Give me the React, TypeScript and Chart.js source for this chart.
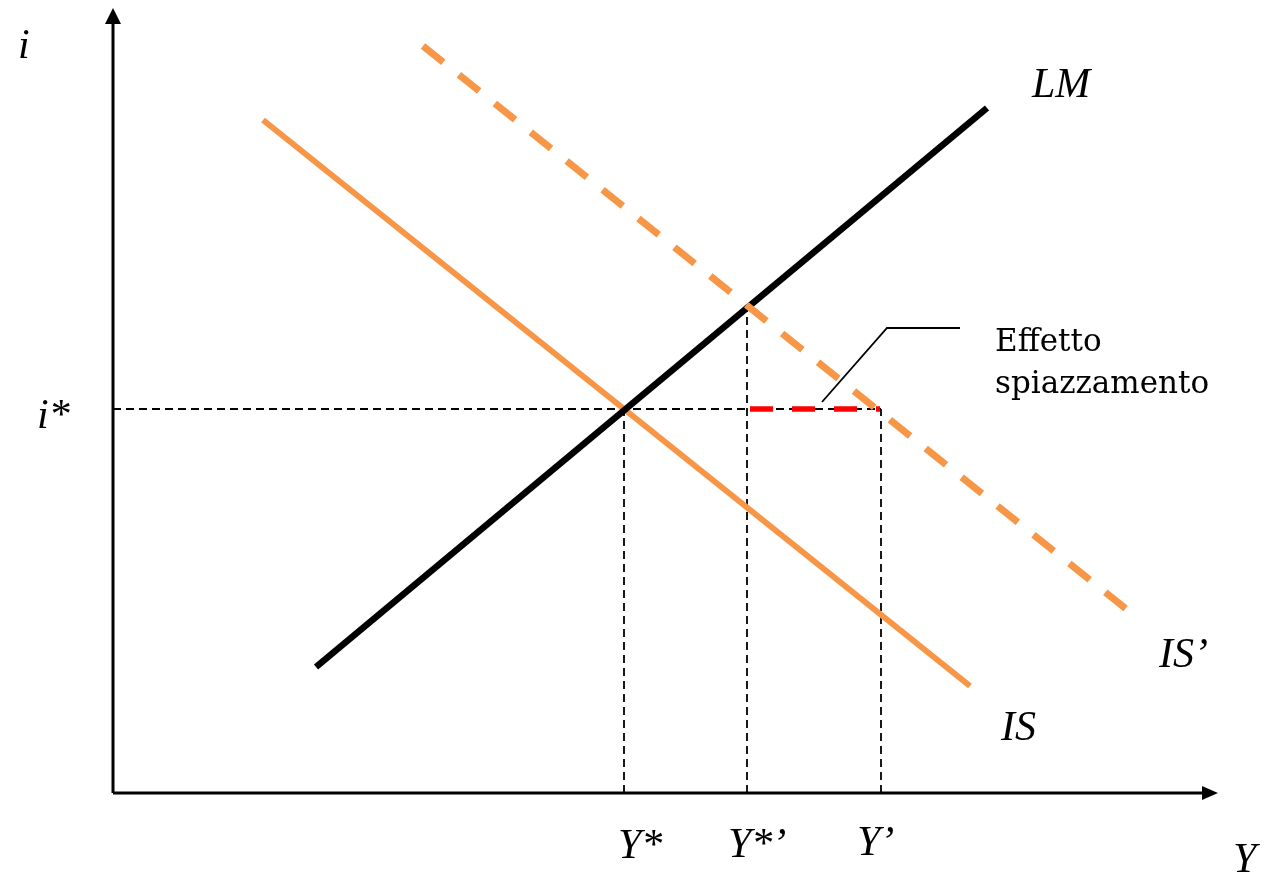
import { useEffect, useRef } from "react";
import { Chart, registerables } from "chart.js";

Chart.register(...registerables);

// Income Y on the horizontal axis, interest rate i on the vertical axis (arbitrary units)
const Y_MAX = 110.5;
const I_MAX = 78.5;

// Equilibrium values
const yStar = 51.1;
const iStar = 38.4;
const yStarPrime = 63.4;
const iStarPrime = 48.5;
const yPrime = 76.8;

// Curves as end points (Y, i)
const isCurve = [
  { x: 15.0, y: 67.3 },
  { x: 85.7, y: 10.7 },
];
const isShiftedCurve = [
  { x: 31.0, y: 74.7 },
  { x: 101.7, y: 18.1 },
];
const lmCurve = [
  { x: 20.3, y: 12.6 },
  { x: 87.4, y: 68.5 },
];

// Crowding-out gap at the old interest rate
const crowdingOut = [
  { x: yStarPrime + 0.3, y: iStar },
  { x: yPrime - 0.1, y: iStar },
];

// Pointer from the note to the gap
const noteLeader = [
  { x: 70.9, y: 39.1 },
  { x: 77.4, y: 46.5 },
  { x: 84.7, y: 46.5 },
];

// Axis tick labels
const xTickLabels = ["Y*", "Y*’", "Y’"];
const yTickLabels = ["i*"];
const curveNames = ["LM", "IS", "IS’"];
const noteLines = ["Effetto", "spiazzamento"];

const ORANGE = "#F79646";
const ITALIC = "italic 42px 'Liberation Serif', serif";
const ROMAN = "31px 'DejaVu Serif', serif";

type Label = { text: string; x: number; y: number; font: string };

const labels: Label[] = [
  { text: "i", x: -9.5, y: 73.5, font: ITALIC },
  { text: yTickLabels[0], x: -7.6, y: 36.5, font: ITALIC },
  { text: xTickLabels[0], x: 50.5, y: -6.5, font: ITALIC },
  { text: xTickLabels[1], x: 61.5, y: -6.4, font: ITALIC },
  { text: xTickLabels[2], x: 74.4, y: -6.2, font: ITALIC },
  { text: "Y", x: 112.0, y: -7.9, font: ITALIC },
  { text: curveNames[0], x: 91.9, y: 69.6, font: ITALIC },
  { text: curveNames[1], x: 88.8, y: 5.3, font: ITALIC },
  { text: curveNames[2], x: 104.6, y: 12.6, font: ITALIC },
  { text: noteLines[0], x: 88.2, y: 44.2, font: ROMAN },
  { text: noteLines[1], x: 88.2, y: 40.0, font: ROMAN },
];

const axesAndLabels = {
  id: "axesAndLabels",
  beforeDatasetsDraw(chart: any) {
    const { ctx, scales } = chart;
    const xs = scales.x;
    const ys = scales.y;
    const ox = xs.getPixelForValue(0);
    const oy = ys.getPixelForValue(0);
    const xEnd = xs.getPixelForValue(Y_MAX);
    const yEnd = ys.getPixelForValue(I_MAX);
    ctx.save();
    ctx.strokeStyle = "#000";
    ctx.fillStyle = "#000";
    ctx.lineWidth = 3;
    ctx.beginPath();
    ctx.moveTo(ox, oy);
    ctx.lineTo(xEnd - 14, oy);
    ctx.moveTo(ox, oy);
    ctx.lineTo(ox, yEnd + 14);
    ctx.stroke();
    // arrow heads
    ctx.beginPath();
    ctx.moveTo(xEnd, oy);
    ctx.lineTo(xEnd - 16, oy - 7);
    ctx.lineTo(xEnd - 16, oy + 7);
    ctx.closePath();
    ctx.fill();
    ctx.beginPath();
    ctx.moveTo(ox, yEnd);
    ctx.lineTo(ox - 8, yEnd + 16);
    ctx.lineTo(ox + 8, yEnd + 16);
    ctx.closePath();
    ctx.fill();
    ctx.restore();
  },
  afterDraw(chart: any) {
    const { ctx, scales } = chart;
    ctx.save();
    ctx.fillStyle = "#000";
    ctx.textAlign = "left";
    ctx.textBaseline = "alphabetic";
    for (const l of labels) {
      ctx.font = l.font;
      ctx.fillText(l.text, scales.x.getPixelForValue(l.x), scales.y.getPixelForValue(l.y));
    }
    ctx.restore();
  },
};

const guide = (pts: { x: number; y: number }[]) => ({
  data: pts,
  borderColor: "#000",
  borderWidth: 1.8,
  borderDash: [8, 5],
  order: 10,
});

export default function App() {
  const ref = useRef<HTMLCanvasElement | null>(null);

  useEffect(() => {
    if (!ref.current) return;
    const chart = new Chart(ref.current, {
      type: "line",
      data: {
        datasets: [
          guide([{ x: 0, y: iStar }, { x: yPrime, y: iStar }]),
          guide([{ x: yStar, y: 0 }, { x: yStar, y: iStar }]),
          guide([{ x: yStarPrime, y: 0 }, { x: yStarPrime, y: iStarPrime }]),
          guide([{ x: yPrime, y: 0 }, { x: yPrime, y: iStar }]),
          {
            label: "IS",
            data: isCurve,
            borderColor: ORANGE,
            borderWidth: 6,
            order: 5,
          },
          {
            label: "LM",
            data: lmCurve,
            borderColor: "#000",
            borderWidth: 6.5,
            order: 4,
          },
          {
            label: "IS’",
            data: isShiftedCurve,
            borderColor: ORANGE,
            borderWidth: 7,
            borderDash: [26, 20],
            order: 3,
          },
          {
            label: "Effetto spiazzamento",
            data: crowdingOut,
            borderColor: "#FF0000",
            borderWidth: 5.5,
            borderDash: [23, 19],
            order: 2,
          },
          {
            data: noteLeader,
            borderColor: "#000",
            borderWidth: 1.8,
            order: 1,
          },
        ] as any,
      },
      options: {
        responsive: false,
        maintainAspectRatio: false,
        animation: false,
        parsing: false as any,
        normalized: true,
        elements: {
          point: { radius: 0, hoverRadius: 0 },
          line: { tension: 0, borderCapStyle: "butt", fill: false },
        },
        layout: { padding: { left: 113, right: 50, top: 8, bottom: 89 } },
        plugins: {
          legend: { display: false },
          tooltip: { enabled: false },
        },
        events: [],
        scales: {
          x: { type: "linear", min: 0, max: Y_MAX, display: false },
          y: { type: "linear", min: 0, max: I_MAX, display: false },
        },
      },
      plugins: [axesAndLabels],
    });
    return () => chart.destroy();
  }, []);

  return (
    <div style={{ position: "absolute", left: 0, top: 0, width: 1268, height: 882, background: "#fff" }}>
      <canvas ref={ref} width={1268} height={882} style={{ display: "block" }} />
    </div>
  );
}
